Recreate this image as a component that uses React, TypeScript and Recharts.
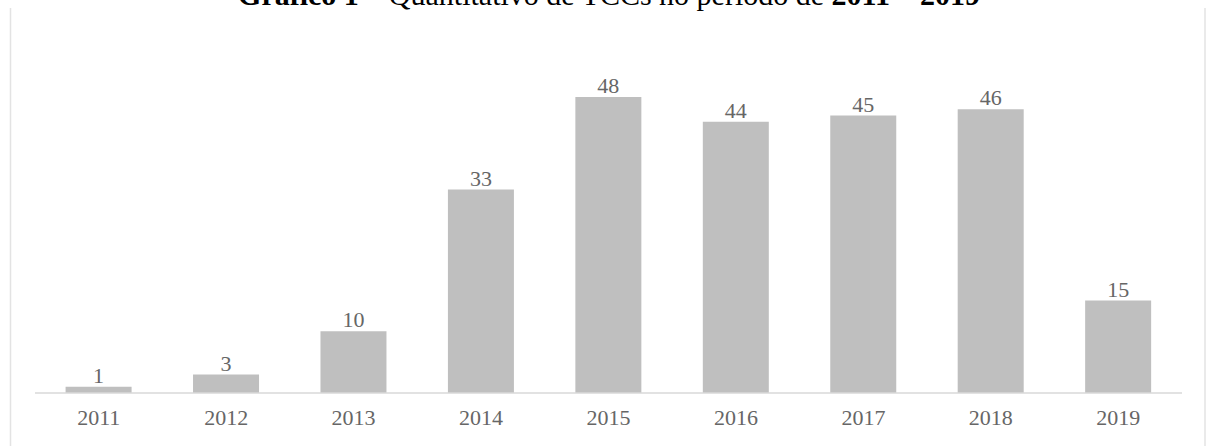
import React from "react";
import { BarChart, Bar, XAxis, YAxis, LabelList } from "recharts";

const years = ["2011", "2012", "2013", "2014", "2015", "2016", "2017", "2018", "2019"];
const counts = [1, 3, 10, 33, 48, 44, 45, 46, 15];

const data = years.map((year, i) => ({ year, count: counts[i] }));

const FONT = "'Liberation Serif', 'Times New Roman', serif";

export default function App() {
  return (
    <div style={{ position: "absolute", top: 0, left: 0, width: 1206, height: 446, background: "#fff", overflow: "hidden" }}>
      <BarChart
        width={1206}
        height={446}
        data={data}
        margin={{ top: 23, right: 24, left: 35, bottom: 23 }}
        barCategoryGap="24%"
      >
        <XAxis
          dataKey="year"
          height={30}
          tickLine={false}
          tickSize={0}
          tickMargin={16}
          axisLine={{ stroke: "#d9d9d9", strokeWidth: 1.5 }}
          tick={{ fill: "#666666", fontSize: 22, fontFamily: FONT }}
          interval={0}
        />
        <YAxis hide domain={[0, 60]} />
        <Bar dataKey="count" fill="#bfbfbf" isAnimationActive={false}>
          <LabelList
            dataKey="count"
            position="top"
            offset={4}
            style={{ fill: "#666666", fontSize: 22, fontFamily: FONT }}
          />
        </Bar>
      </BarChart>
      <svg
        width={1206}
        height={446}
        style={{ position: "absolute", top: 0, left: 0, pointerEvents: "none" }}
      >
        <line x1={10.5} y1={8} x2={10.5} y2={446} stroke="#e3e3e3" strokeWidth={1.5} />
        <line x1={1205} y1={8} x2={1205} y2={446} stroke="#e3e3e3" strokeWidth={1.5} />
        <text x={609} y={5} textAnchor="middle" fontSize={30} fontFamily={FONT} fill="#000">
          <tspan fontWeight="bold">Gráfico 1</tspan>
          <tspan> – Quantitativo de TCCs no período de </tspan>
          <tspan fontWeight="bold">2011 – 2019</tspan>
        </text>
      </svg>
    </div>
  );
}
